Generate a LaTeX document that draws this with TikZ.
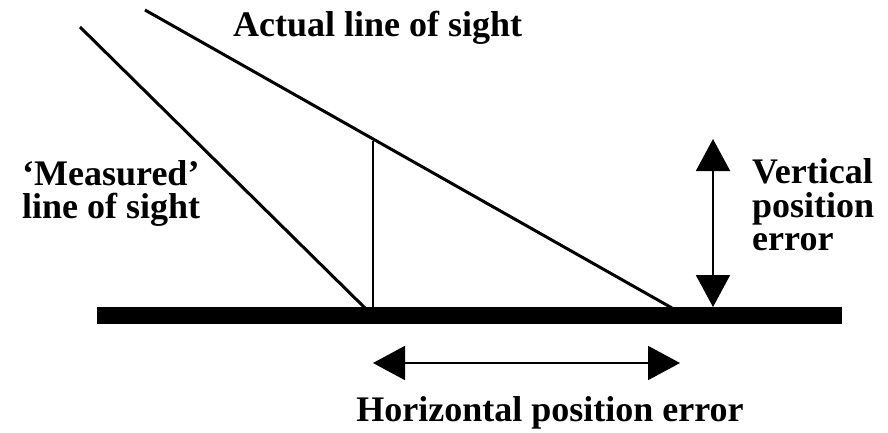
\documentclass[tikz,border=0pt]{standalone}
\usepackage{fontspec}
\setmainfont{Liberation Serif}
\usetikzlibrary{arrows.meta}
\begin{document}
\begin{tikzpicture}[x=1pt,y=-1pt,
  lbl/.style={font=\bfseries\fontsize{36}{33}\selectfont,inner sep=0pt,align=left},
  sight/.style={line width=3pt},
  dbl/.style={line width=2pt,{Triangle[length=32pt,width=34pt]}-{Triangle[length=32pt,width=34pt]}}]
\useasboundingbox (0,0) rectangle (888,433);
% ground
\coordinate (g1) at (97,315.5);
\coordinate (g2) at (842,315.5);
\draw[line width=17pt] (g1) -- (g2);
% lines of sight
\coordinate (m1) at (80,27);
\coordinate (m2) at (365,308);
\coordinate (a1) at (145,10);
\coordinate (a2) at (672,308);
\draw[sight] (m1) -- (m2);
\draw[sight] (a1) -- (a2);
% vertical drop
\coordinate (v1) at (373,141);
\coordinate (v2) at (373,308);
\draw[line width=2pt] (v1) -- (v2);
% vertical error arrow
\coordinate (ve1) at (713,139);
\coordinate (ve2) at (713,307);
\draw[dbl] (ve1) -- (ve2);
% horizontal error arrow
\coordinate (he1) at (373,363);
\coordinate (he2) at (680,363);
\draw[dbl] (he1) -- (he2);
% labels
\node[lbl,anchor=base west] (tact) at (233,37) {Actual line of sight};
\node[lbl,anchor=base west] (tmeas1) at (22,185) {`Measured'};
\node[lbl,anchor=base west] (tmeas2) at (22,218) {line of sight};
\node[lbl,anchor=base west] (tver1) at (752,183) {Vertical};
\node[lbl,anchor=base west] (tver2) at (752,217) {position};
\node[lbl,anchor=base west] (tver3) at (752,250) {error};
\node[lbl,anchor=base] (thor) at (550,421) {Horizontal position error};
\end{tikzpicture}
\end{document}
